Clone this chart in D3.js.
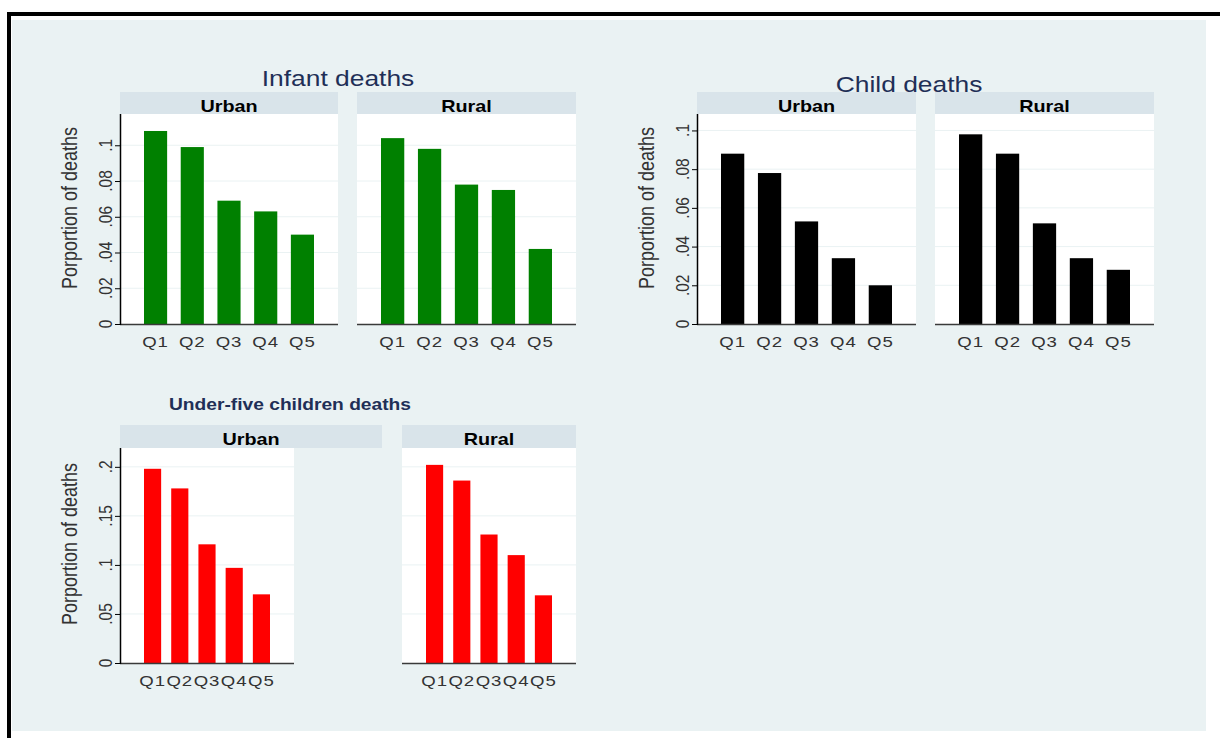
<!DOCTYPE html>
<html>
<head>
<meta charset="utf-8">
<script src="https://cdn.jsdelivr.net/npm/d3@7"></script>
<style>
  html, body { margin: 0; padding: 0; background: #ffffff; }
  svg { display: block; }
  text { font-family: "Liberation Sans", Arial, sans-serif; }
</style>
</head>
<body>
<svg id="chart" width="1220" height="738"></svg>
<script>
// ---- data ----
const quintiles = ["Q1", "Q2", "Q3", "Q4", "Q5"];
const infantUrban = [0.108, 0.099, 0.069, 0.063, 0.050];
const infantRural = [0.104, 0.098, 0.078, 0.075, 0.042];
const childUrban = [0.088, 0.078, 0.053, 0.034, 0.020];
const childRural = [0.098, 0.088, 0.052, 0.034, 0.028];
const underFiveUrban = [0.198, 0.178, 0.121, 0.097, 0.070];
const underFiveRural = [0.202, 0.186, 0.131, 0.110, 0.069];
const infantTicks = [0, 0.02, 0.04, 0.06, 0.08, 0.1];
const childTicks = [0, 0.02, 0.04, 0.06, 0.08, 0.1];
const underFiveTicks = [0, 0.05, 0.1, 0.15, 0.2];
const yTitle = "Porportion of deaths";

// ---- layout ----
const SX = 1.2;            // horizontal text stretch of the graph export
const svg = d3.select("#chart");

// graph region with the black frame along the top and left
svg.append("rect").attr("x", 12).attr("y", 20).attr("width", 1194).attr("height", 711).attr("fill", "#eaf2f3");
svg.append("rect").attr("x", 7).attr("y", 12).attr("width", 1213).attr("height", 4).attr("fill", "#000");
svg.append("rect").attr("x", 7).attr("y", 12).attr("width", 4).attr("height", 726).attr("fill", "#000");

function label(g, x, y, str, o) {
  const t = g.append("text")
    .attr("transform", `translate(${x},${y}) scale(${SX},1)` + (o.rotate ? " rotate(-90)" : ""))
    .attr("text-anchor", o.anchor || "middle")
    .attr("font-size", o.size)
    .attr("font-weight", o.bold ? "bold" : "normal")
    .attr("fill", o.color || "#000")
    .text(str);
  if (o.dy) t.attr("dy", o.dy);
  if (o.spacing) t.attr("letter-spacing", o.spacing);
  return t;
}

const fmt = d => d === 0 ? "0" : String(d).replace(/^0/, "");

const groups = [
  {
    title: "Infant deaths", titleX: 338, titleY: 86, titleSize: 22, titleBold: false,
    stripTop: 92, plotTop: 114, base: 324, yMax: 0.1175, ticks: infantTicks, color: "#008000",
    panels: [
      { name: "Urban", x0: 120, x1: 338, stripX1: 338, values: infantUrban, axis: true },
      { name: "Rural", x0: 357, x1: 576, stripX1: 576, values: infantRural, axis: false }
    ]
  },
  {
    title: "Child deaths", titleX: 909, titleY: 92, titleSize: 22, titleBold: false,
    stripTop: 92, plotTop: 114, base: 324, yMax: 0.1085, ticks: childTicks, color: "#000000",
    panels: [
      { name: "Urban", x0: 697, x1: 916, stripX1: 916, values: childUrban, axis: true },
      { name: "Rural", x0: 935, x1: 1154, stripX1: 1154, values: childRural, axis: false }
    ]
  },
  {
    title: "Under-five children deaths", titleX: 290, titleY: 410, titleSize: 16, titleBold: true,
    stripTop: 425, plotTop: 448, base: 663, yMax: 0.2192, ticks: underFiveTicks, color: "#ff0000",
    panels: [
      { name: "Urban", x0: 120, x1: 294, stripX1: 382, values: underFiveUrban, axis: true },
      { name: "Rural", x0: 402, x1: 576, stripX1: 576, values: underFiveRural, axis: false }
    ]
  }
];

groups.forEach(grp => {
  const g = svg.append("g");
  const y = d3.scaleLinear().domain([0, grp.yMax]).range([grp.base, grp.plotTop]);

  grp.panels.forEach(p => {
    const pg = g.append("g");
    // strip header
    pg.append("rect").attr("x", p.x0).attr("y", grp.stripTop)
      .attr("width", p.stripX1 - p.x0).attr("height", grp.plotTop - grp.stripTop)
      .attr("fill", "#d9e4ea");
    label(pg, (p.x0 + p.stripX1) / 2, grp.stripTop + 19.5, p.name, { size: 16.5, bold: true, color: "#000" });

    // plot region
    pg.append("rect").attr("x", p.x0).attr("y", grp.plotTop)
      .attr("width", p.x1 - p.x0).attr("height", grp.base - grp.plotTop)
      .attr("fill", "#ffffff");

    // grid lines
    pg.selectAll("line.grid").data(grp.ticks.filter(t => t > 0)).join("line")
      .attr("class", "grid")
      .attr("x1", p.x0).attr("x2", p.x1)
      .attr("y1", d => y(d)).attr("y2", d => y(d))
      .attr("stroke", "#eaf2f3").attr("stroke-width", 1);

    const x = d3.scaleBand().domain(quintiles)
      .range([p.x0 + 24, p.x1 - 24]).paddingInner(0.37).paddingOuter(0);

    // bars
    pg.selectAll("rect.bar").data(p.values).join("rect")
      .attr("class", "bar")
      .attr("x", (d, i) => x(quintiles[i]))
      .attr("width", x.bandwidth())
      .attr("y", d => y(d))
      .attr("height", d => y(0) - y(d))
      .attr("fill", grp.color);

    // baseline
    pg.append("line").attr("x1", p.x0).attr("x2", p.x1)
      .attr("y1", grp.base + 0.5).attr("y2", grp.base + 0.5)
      .attr("stroke", "#3a3a3a").attr("stroke-width", 1.3);

    // category labels
    quintiles.forEach(q => {
      label(pg, x(q) + x.bandwidth() / 2, grp.base + 22.5, q, { size: 15.5, color: "#333", spacing: 0.8 });
    });

    if (p.axis) {
      // y axis line and ticks
      pg.append("line").attr("x1", p.x0 + 0.5).attr("x2", p.x0 + 0.5)
        .attr("y1", grp.plotTop).attr("y2", grp.base + 1)
        .attr("stroke", "#000").attr("stroke-width", 1.5);
      pg.selectAll("line.tick").data(grp.ticks).join("line")
        .attr("class", "tick")
        .attr("x1", p.x0 - 5).attr("x2", p.x0)
        .attr("y1", d => y(d) + 0.5).attr("y2", d => y(d) + 0.5)
        .attr("stroke", "#000").attr("stroke-width", 1);
      grp.ticks.forEach(t => {
        label(pg, p.x0 - 15, y(t), fmt(t), { size: 15.5, color: "#333", rotate: true, dy: "0.35em" });
      });
      label(pg, p.x0 - 51, (grp.stripTop + grp.base) / 2, yTitle,
        { size: 18, color: "#333", rotate: true, dy: "0.35em" });
    }
  });

  label(g, grp.titleX, grp.titleY, grp.title,
    { size: grp.titleSize, bold: grp.titleBold, color: "#1f2f57" });
});
</script>
</body>
</html>
